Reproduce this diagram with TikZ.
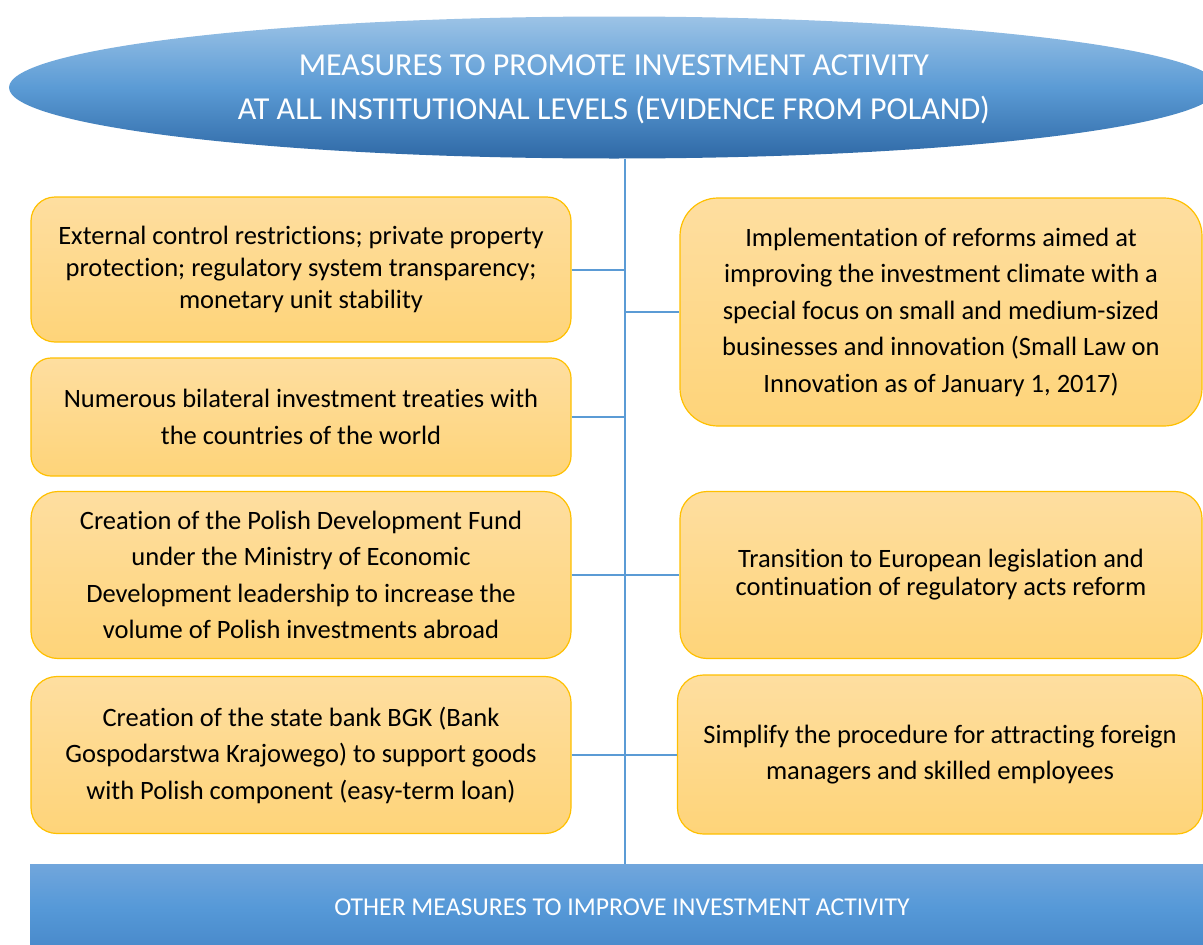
\documentclass[tikz,border=0pt]{standalone}
\usepackage{fontspec}
\setmainfont[Ligatures=NoCommon]{Carlito}
\usetikzlibrary{shapes.geometric}
\definecolor{boxline}{HTML}{FFC000}
\definecolor{boxtop}{HTML}{FEDEA0}
\definecolor{boxbot}{HTML}{FED479}
\definecolor{linkblue}{HTML}{5B9BD5}
\definecolor{headtop}{HTML}{9CC3E6}
\definecolor{headmid}{HTML}{5B9BD5}
\definecolor{headbot}{HTML}{2F69A6}
\definecolor{bartop}{HTML}{71A6DC}
\definecolor{barmid}{HTML}{5699D8}
\definecolor{barbot}{HTML}{4889CA}
\tikzset{
  measure/.style={draw=boxline, line width=1.2pt, rounded corners=#1,
    top color=boxtop, bottom color=boxbot, align=center, inner sep=0pt,
    font=\fontsize{26.5}{36.5}\selectfont},
  measure/.default=25pt,
  link/.style={draw=linkblue, line width=2pt},
  headline/.style={ellipse, top color=headtop, bottom color=headbot, middle color=headmid,
    text=white, align=center, inner sep=0pt, font=\fontsize{32}{44}\selectfont},
  footbar/.style={rectangle, top color=bartop, bottom color=barbot, middle color=barmid,
    text=white, inner sep=0pt, font=\fontsize{25.7}{28}\selectfont}
}
\begin{document}
\begin{tikzpicture}[x=1pt,y=-1pt]
  \path[use as bounding box, clip] (0,0) rectangle (1203,945);
  \fill[white] (0,0) rectangle (1203,945);

  \node[headline, minimum width=1210pt, minimum height=142pt, text depth=0pt] (title) at (614,87.5)
    {MEASURES TO PROMOTE INVESTMENT ACTIVITY\\AT ALL INSTITUTIONAL LEVELS (EVIDENCE FROM POLAND)};
  \node[footbar, minimum width=1184pt, minimum height=86pt] (bar) at (622,907)
    {OTHER MEASURES TO IMPROVE INVESTMENT ACTIVITY};
  \coordinate (trunk) at (625,0);

  \node[measure=24pt, minimum width=540pt, minimum height=145pt, font=\fontsize{26.5}{32}\selectfont] (left1) at (301,269.5)
    {External control restrictions; private property\\protection; regulatory system transparency;\\monetary unit stability};
  \node[measure=20pt, minimum width=540pt, minimum height=118pt] (left2) at (301,417)
    {Numerous bilateral investment treaties with\\the countries of the world};
  \node[measure=27pt, minimum width=540pt, minimum height=167pt] (left3) at (301,575)
    {Creation of the Polish Development Fund\\under the Ministry of Economic\\Development leadership to increase the\\volume of Polish investments abroad};
  \node[measure=26pt, minimum width=540pt, minimum height=157pt] (left4) at (301,755)
    {Creation of the state bank BGK (Bank\\Gospodarstwa Krajowego) to support goods\\with Polish component (easy-term loan)};

  \node[measure=38pt, minimum width=522pt, minimum height=228pt] (right1) at (941,312)
    {Implementation of reforms aimed at\\improving the investment climate with a\\special focus on small and medium-sized\\businesses and innovation (Small Law on\\Innovation as of January 1, 2017)};
  \node[measure=27pt, minimum width=522pt, minimum height=167pt, font=\fontsize{26.5}{28}\selectfont] (right2) at (941,575)
    {Transition to European legislation and\\continuation of regulatory acts reform};
  \node[measure=26pt, minimum width=525pt, minimum height=159pt] (right3) at (940,754.5)
    {Simplify the procedure for attracting foreign\\managers and skilled employees};

  \draw[link, line width=1.6pt] (title.south -| trunk) -- (bar.north -| trunk);
  \foreach \b in {left1,left2,left3,left4}
    \draw[link] (\b.east) -- (\b.east -| trunk);
  \foreach \b in {right1,right2,right3}
    \draw[link] (\b.west -| trunk) -- (\b.west);
\end{tikzpicture}
\end{document}
